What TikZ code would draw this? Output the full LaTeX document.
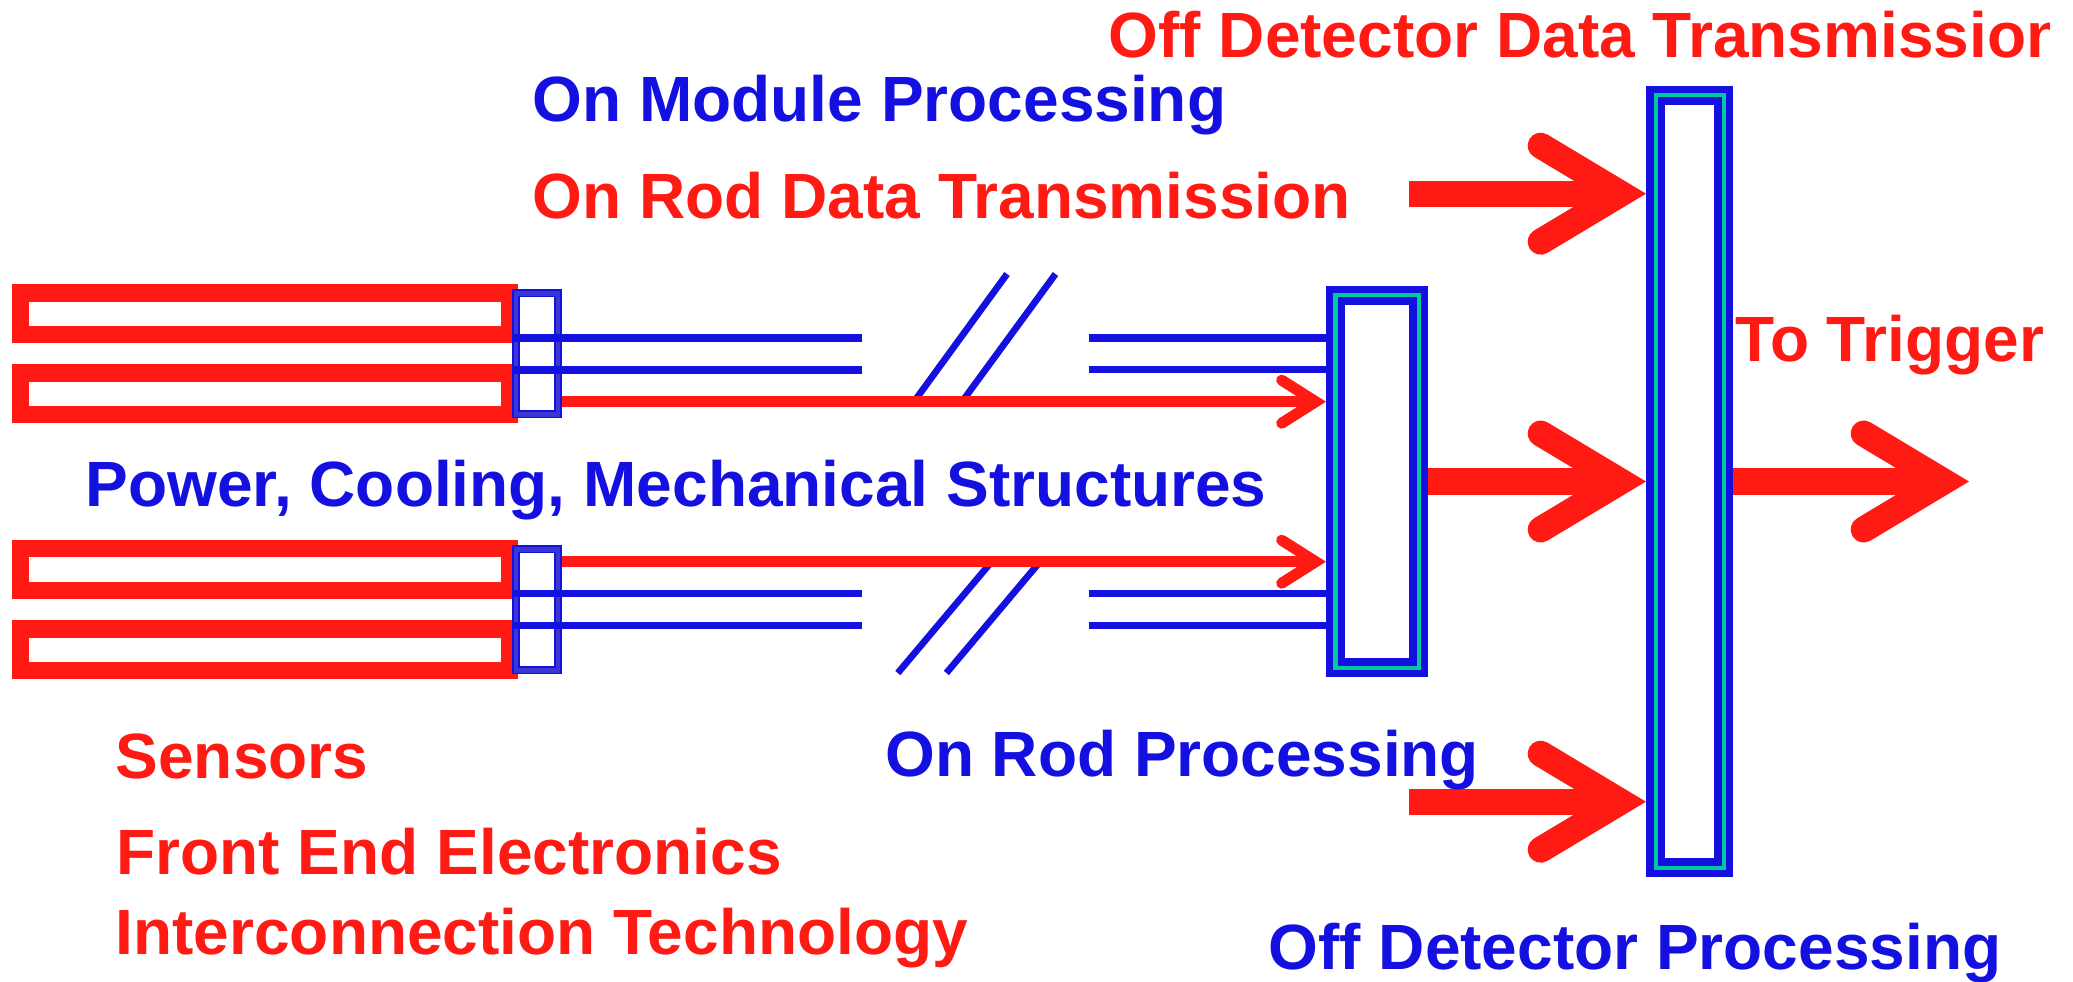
\documentclass[tikz,border=0pt]{standalone}
\usepackage{fontspec}
\setmainfont{Liberation Sans}
\usetikzlibrary{arrows.meta}

\definecolor{detblue}{HTML}{1410E0}
\definecolor{boxblue}{HTML}{3A36D0}
\definecolor{detred}{HTML}{FF1A14}
\definecolor{detgreen}{HTML}{00C8A0}

\tikzset{
  lab/.style={font=\bfseries\fontsize{18.2pt}{22pt}\selectfont, inner sep=0pt, anchor=base west},
  sensor/.style={draw=detred, line width=4.98pt},
  wire/.style={draw=detblue, line width=2pt},
  redwire/.style={draw=detred, line width=3.13pt, -{Straight Barb[length=0.34cm, width=0.43cm, line cap=round, line join=miter]}},
  bigarrow/.style={draw=detred, line width=7.4pt, -{Straight Barb[length=0.8cm, width=0.96cm, line cap=round, line join=miter]}},
  modbox/.style={draw=detblue, double=boxblue, line width=0.5pt, double distance=1.4pt, fill=white, minimum width=0.42cm, minimum height=1.21cm, inner sep=0pt, outer sep=1.2pt},
  rodbox/.style={draw=detblue, double=detgreen, line width=2.13pt, double distance=1.14pt, fill=white, inner sep=0pt, outer sep=2.7pt}
}

\begin{document}
\begin{tikzpicture}[x=0.01cm, y=-0.01cm]
  \useasboundingbox (0,0) rectangle (2073,982);

  % sensors
  \foreach \y in {292.8, 373, 548.7, 628.8}
    \draw[sensor] (20.3,\y) rectangle ++(489.2,41.6);

  % modules on the sensors
  \node (mod1) [modbox] at (537,353.6) {};
  \node (mod2) [modbox] at (537,609.7) {};

  % on rod and off detector boxes
  \node (orp) [rodbox, minimum width=0.83cm, minimum height=3.72cm] at (1377,481.5) {};
  \node (odp) [rodbox, minimum width=0.68cm, minimum height=7.72cm] at (1689.5,481.5) {};

  % cut in the rod
  \coordinate (brk1) at (862,0);
  \coordinate (brk2) at (1089,0);
  \draw[wire, line width=1.9pt] (1007,274) -- (914,401.7) (1055.5,274) -- (962,401.7);
  \draw[wire, line width=1.9pt] (991.6,561.7) -- (897.8,673) (1040,561.7) -- (946.4,673);

  \foreach \y in {338,370} \draw[wire] (mod1.west |- 0,\y) -- (brk1 |- 0,\y);
  \foreach \y in {593.3,625.7} \draw[wire] (mod2.west |- 0,\y) -- (brk1 |- 0,\y);
  \foreach \y in {338,369.3,593.3,625.7} \draw[wire] (brk2 |- 0,\y) -- (orp.west |- 0,\y);

  \draw[redwire] (mod1.east |- 0,401.7) -- (orp.west |- 0,401.7);
  \draw[redwire] (mod2.east |- 0,561.7) -- (orp.west |- 0,561.7);

  % data out
  \coordinate (in1) at (1409,193.7);
  \coordinate (in3) at (1409,801.7);
  \coordinate (trig) at (1969,481.5);
  \draw[bigarrow] (in1) -- (in1 -| odp.west);
  \draw[bigarrow] (orp) -- (odp);
  \draw[bigarrow] (in3) -- (in3 -| odp.west);
  \draw[bigarrow] (odp) -- (trig);

  % labels
  \begin{scope}
    \clip (1000,0) rectangle (2049,80);
    \node (odt) [lab, text=detred] at (1108,57.3) {Off Detector Data Transmission};
  \end{scope}
  \node (omp) [lab, text=detblue] at (532,121.7) {On Module Processing};
  \node (ordt) [lab, text=detred] at (532,218.3) {On Rod Data Transmission};
  \node (trg) [lab, text=detred] at (1735,361.7) {To Trigger};
  \node (pcm) [lab, text=detblue] at (85,506) {Power, Cooling, Mechanical Structures};
  \node (sen) [lab, text=detred] at (115,778.3) {Sensors};
  \node (fee) [lab, text=detred] at (116,874) {Front End Electronics};
  \node (ict) [lab, text=detred] at (115,954.3) {Interconnection Technology};
  \node (orpl) [lab, text=detblue] at (884.5,776.7) {On Rod Processing};
  \node (odpl) [lab, text=detblue] at (1268,969.3) {Off Detector Processing};
\end{tikzpicture}
\end{document}
